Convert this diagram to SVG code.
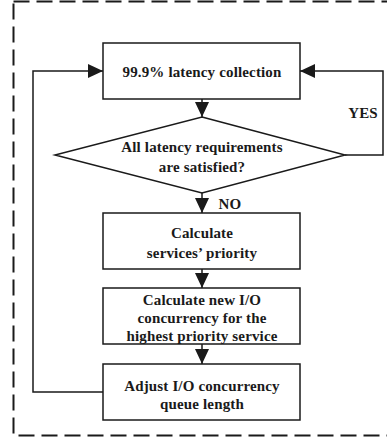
<svg xmlns="http://www.w3.org/2000/svg" width="387" height="438" viewBox="0 0 387 438">
<style>
.box{fill:#fff;stroke:#1a1a1a;stroke-width:1.5}
.ln{fill:none;stroke:#1a1a1a;stroke-width:1.5}
text{font-family:"Liberation Serif","Times New Roman",serif;font-weight:bold;font-size:15px;letter-spacing:0.15px;fill:#1a1a1a;text-anchor:middle}
</style>
<defs>
<marker id="ah" markerUnits="userSpaceOnUse" markerWidth="16" markerHeight="16" viewBox="0 0 16 16" refX="15" refY="8" orient="auto">
<path d="M0,1 L15,8 L0,15 Z" fill="#1a1a1a"/>
</marker>
</defs>
<rect x="13.5" y="1.5" width="380" height="434" fill="none" stroke="#1a1a1a" stroke-width="2" stroke-dasharray="16,7"/>
<g id="connectors">
<path class="ln" d="M202,99 V117" marker-end="url(#ah)"/>
<path class="ln" d="M345,155 H383 V71 H300" marker-end="url(#ah)"/>
<path class="ln" d="M202,193 V213" marker-end="url(#ah)"/>
<path class="ln" d="M202,269 V288" marker-end="url(#ah)"/>
<path class="ln" d="M202,344 V364" marker-end="url(#ah)"/>
<path class="ln" d="M103,392 H33 V71 H103" marker-end="url(#ah)"/>
<text x="363" y="118">YES</text>
<text x="230" y="209">NO</text>
</g>
<g id="n1">
<rect class="box" x="103" y="43" width="197" height="56"/>
<text x="202" y="76.5">99.9% latency collection</text>
</g>
<g id="n2">
<polygon class="box" points="202,117 345,155 202,193 55,155"/>
<text x="202" y="152">All latency requirements</text>
<text x="202" y="172">are satisfied?</text>
</g>
<g id="n3">
<rect class="box" x="103" y="213" width="197" height="56"/>
<text x="202" y="238">Calculate</text>
<text x="202" y="258">services’ priority</text>
</g>
<g id="n4">
<rect class="box" x="103" y="288" width="197" height="56"/>
<text x="202" y="305">Calculate new I/O</text>
<text x="202" y="323">concurrency for the</text>
<text x="202" y="341">highest priority service</text>
</g>
<g id="n5">
<rect class="box" x="103" y="364" width="197" height="56"/>
<text x="202" y="391">Adjust I/O concurrency</text>
<text x="202" y="409">queue length</text>
</g>
</svg>
